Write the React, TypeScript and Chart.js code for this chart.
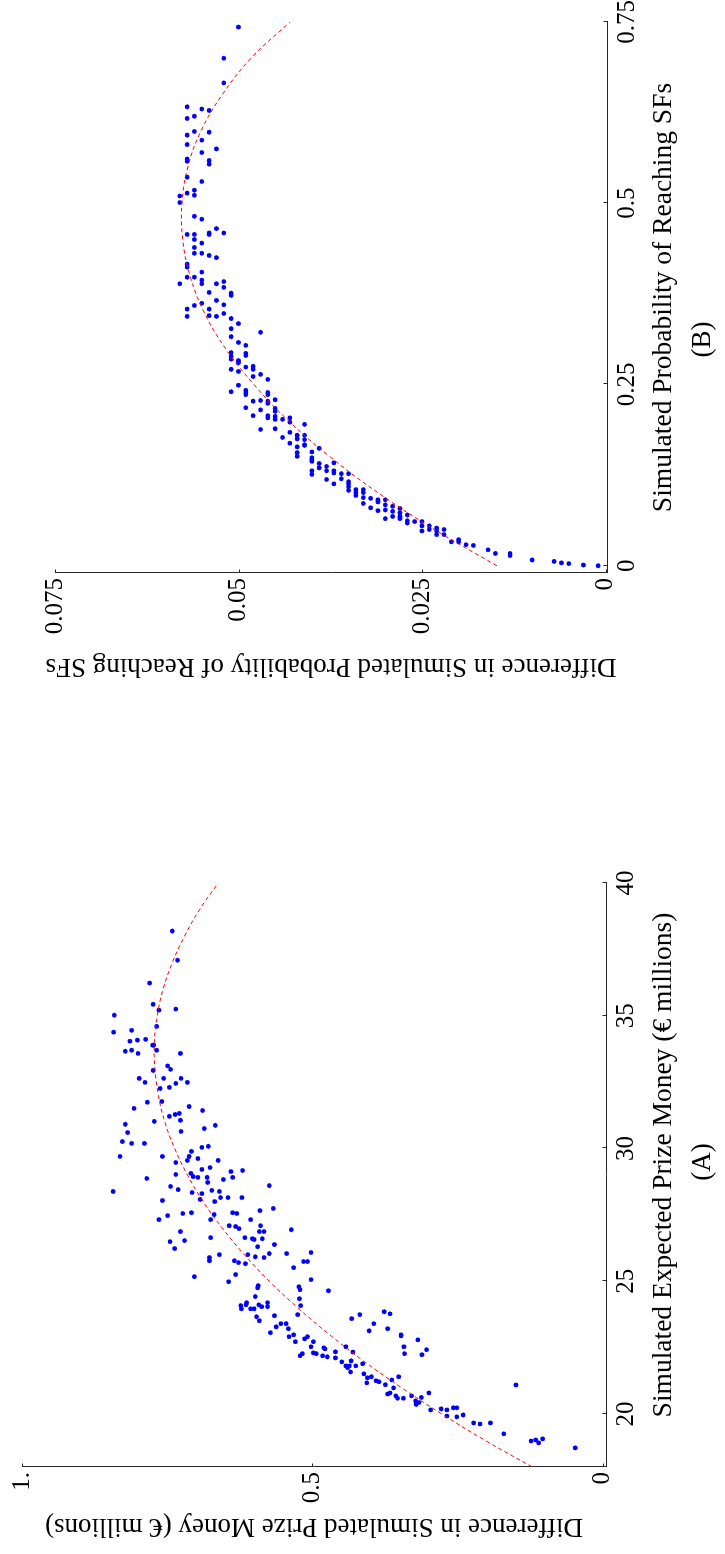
import React, { useEffect, useRef } from "react";
import { Chart, registerables } from "chart.js";

Chart.register(...registerables);

// ---------- Panel (A): Expected prize money ----------
const PRIZE_POINTS: number[][] = [
  [38.19,0.741],[37.09,0.732],[36.23,0.780],[35.43,0.774],[35.25,0.735],[35.21,0.764],[34.60,0.768],[34.45,0.811],
  [34.04,0.814],[34.08,0.801],[34.11,0.787],[33.89,0.775],[33.89,0.773],[33.66,0.822],[33.70,0.811],[33.58,0.800],
  [33.70,0.768],[33.58,0.727],[33.11,0.749],[32.98,0.744],[32.94,0.774],[32.64,0.798],[32.49,0.788],[32.64,0.756],
  [32.64,0.726],[32.45,0.735],[32.49,0.715],[32.26,0.762],[32.30,0.746],[31.77,0.759],[31.74,0.784],[31.51,0.807],
  [31.58,0.712],[31.43,0.689],[31.21,0.746],[31.28,0.736],[31.32,0.729],[31.06,0.727],[31.02,0.772],[30.91,0.822],
  [30.60,0.818],[30.75,0.686],[30.87,0.667],[30.64,0.726],[30.26,0.827],[30.19,0.811],[30.19,0.789],[30.04,0.690],
  [30.08,0.679],[29.89,0.708],[29.70,0.831],[29.70,0.758],[29.70,0.712],[29.55,0.715],[29.62,0.697],[29.55,0.662],
  [29.47,0.735],[29.21,0.690],[29.28,0.676],[29.13,0.640],[29.17,0.620],[29.06,0.709],[29.02,0.735],[28.94,0.705],
  [28.91,0.697],[28.91,0.681],[28.91,0.637],[28.87,0.785],[28.83,0.653],[35.02,0.841],[34.38,0.842],[28.38,0.843],
  [28.72,0.680],[28.57,0.744],[28.45,0.731],[28.60,0.574],[28.34,0.707],[28.30,0.690],[28.42,0.673],[28.38,0.660],
  [28.15,0.645],[28.15,0.658],[28.15,0.621],[28.08,0.693],[28.00,0.668],[28.04,0.758],[27.74,0.567],[27.47,0.749],
  [27.55,0.723],[27.58,0.708],[27.51,0.669],[27.58,0.637],[27.55,0.630],[27.66,0.590],[27.32,0.764],[27.32,0.675],
  [27.32,0.606],[27.09,0.643],[27.06,0.632],[26.98,0.626],[27.09,0.589],[26.87,0.727],[26.87,0.591],[26.87,0.583],
  [26.94,0.536],[26.49,0.745],[26.53,0.720],[26.64,0.675],[26.64,0.616],[26.60,0.603],[26.57,0.600],[26.60,0.586],
  [26.30,0.594],[26.38,0.565],[26.23,0.737],[25.89,0.677],[25.77,0.677],[26.00,0.660],[26.00,0.611],[25.77,0.634],
  [25.70,0.627],[25.66,0.615],[25.92,0.598],[25.89,0.583],[26.04,0.574],[26.04,0.544],[26.08,0.502],[25.74,0.515],
  [25.74,0.508],[25.51,0.532],[25.17,0.703],[25.25,0.632],[24.98,0.644],[25.06,0.502],[24.75,0.594],[24.83,0.593],
  [24.79,0.523],[24.68,0.521],[24.64,0.472],[24.42,0.598],[24.34,0.522],[24.08,0.623],[24.19,0.613],[23.96,0.622],
  [24.11,0.614],[23.96,0.606],[23.96,0.600],[24.11,0.592],[24.04,0.587],[24.19,0.577],[24.04,0.577],[24.08,0.520],
  [23.70,0.565],[23.74,0.525],[23.66,0.596],[23.51,0.591],[23.28,0.562],[23.40,0.554],[23.40,0.545],[23.21,0.541],
  [23.06,0.572],[22.91,0.540],[22.98,0.532],[22.72,0.529],[22.83,0.513],[22.91,0.508],[22.19,0.521],[22.27,0.517],
  [22.72,0.498],[22.53,0.502],[22.30,0.498],[22.27,0.493],[22.49,0.480],[22.45,0.478],[22.19,0.482],[22.15,0.474],
  [22.34,0.460],[22.11,0.460],[22.53,0.442],[23.59,0.432],[23.74,0.418],[22.33,0.430],[21.96,0.449],[21.81,0.442],
  [21.74,0.439],[21.81,0.436],[21.58,0.434],[22.00,0.433],[21.81,0.425],[21.89,0.413],[23.13,0.402],[23.40,0.394],
  [23.85,0.376],[23.77,0.366],[23.21,0.370],[22.98,0.347],[22.94,0.347],[22.53,0.342],[22.27,0.341],[22.79,0.318],
  [22.42,0.303],[22.23,0.311],[21.51,0.411],[21.36,0.405],[21.17,0.406],[21.40,0.398],[21.25,0.390],[21.21,0.385],
  [21.10,0.374],[21.28,0.363],[21.40,0.351],[20.98,0.360],[20.75,0.370],[20.79,0.366],[20.68,0.356],[20.59,0.353],
  [20.59,0.343],[20.68,0.329],[20.49,0.322],[20.36,0.321],[20.43,0.316],[20.62,0.312],[20.79,0.299],[20.15,0.296],
  [20.19,0.278],[20.15,0.268],[19.92,0.268],[20.23,0.257],[20.23,0.251],[19.89,0.251],[19.96,0.240],[19.66,0.222],
  [19.62,0.211],[19.66,0.193],[19.25,0.170],[21.09,0.149],[18.98,0.123],[19.02,0.115],[18.91,0.110],[19.06,0.103],
  [18.72,0.047],
];
const PRIZE_FIT_X = [18, 19, 20, 21, 22, 23, 24, 25, 26, 27, 28, 29, 30, 31, 32, 33, 34, 35, 36, 37, 38, 39, 40];
const PRIZE_FIT_Y = [0.121, 0.202, 0.277, 0.347, 0.412, 0.471, 0.525, 0.574, 0.617, 0.655, 0.688, 0.715, 0.737,
  0.754, 0.765, 0.771, 0.772, 0.767, 0.757, 0.741, 0.720, 0.694, 0.662];
const PRIZE_X_TICKS = [20, 25, 30, 35, 40];
const PRIZE_X_LABELS = ["20", "25", "30", "35", "40"];
const PRIZE_Y_TICKS = [0, 0.5, 1];
const PRIZE_Y_LABELS = ["0", "0.5", "1."];

// ---------- Panel (B): Probability of reaching SFs ----------
const PROB_POINTS: number[][] = [
  [0.743,0.050],[0.700,0.052],[0.666,0.052],[0.633,0.057],[0.630,0.055],[0.628,0.054],[0.617,0.057],[0.620,0.056],
  [0.599,0.056],[0.598,0.054],[0.594,0.057],[0.587,0.055],[0.581,0.057],[0.575,0.053],[0.570,0.055],[0.561,0.057],
  [0.558,0.057],[0.559,0.054],[0.554,0.054],[0.536,0.057],[0.530,0.055],[0.518,0.056],[0.514,0.057],[0.511,0.056],
  [0.510,0.058],[0.501,0.058],[0.482,0.056],[0.478,0.055],[0.465,0.053],[0.459,0.054],[0.457,0.054],[0.459,0.052],
  [0.457,0.057],[0.457,0.056],[0.450,0.056],[0.445,0.055],[0.439,0.056],[0.431,0.056],[0.431,0.055],[0.428,0.054],
  [0.425,0.053],[0.416,0.057],[0.412,0.057],[0.405,0.055],[0.398,0.057],[0.398,0.056],[0.394,0.055],[0.389,0.055],
  [0.392,0.052],[0.389,0.058],[0.389,0.053],[0.384,0.052],[0.377,0.054],[0.376,0.051],[0.373,0.051],[0.366,0.053],
  [0.362,0.055],[0.359,0.056],[0.360,0.052],[0.354,0.057],[0.354,0.054],[0.345,0.054],[0.344,0.053],[0.348,0.052],
  [0.344,0.057],[0.341,0.051],
  [0.334,0.050],[0.327,0.051],[0.316,0.051],[0.322,0.047],[0.308,0.050],[0.304,0.049],[0.294,0.051],[0.289,0.051],
  [0.285,0.051],[0.283,0.050],[0.280,0.050],[0.293,0.049],[0.290,0.049],[0.275,0.048],[0.271,0.048],[0.271,0.051],
  [0.268,0.050],[0.274,0.049],[0.261,0.048],[0.264,0.047],[0.257,0.046],[0.249,0.050],[0.240,0.051],[0.242,0.049],
  [0.239,0.049],[0.236,0.049],[0.227,0.048],[0.228,0.047],[0.239,0.046],[0.236,0.046],[0.227,0.046],[0.224,0.046],
  [0.229,0.045],[0.218,0.049],[0.215,0.047],[0.217,0.045],[0.213,0.045],[0.207,0.048],[0.207,0.046],[0.204,0.046],
  [0.206,0.045],[0.202,0.045],[0.202,0.044],[0.204,0.043],[0.198,0.043],[0.188,0.047],[0.189,0.045],[0.177,0.044],
  [0.184,0.043],[0.169,0.043],[0.180,0.042],[0.175,0.042],[0.195,0.041],[0.180,0.041],[0.174,0.041],[0.164,0.042],
  [0.167,0.041],[0.166,0.041],[0.156,0.042],[0.151,0.042],[0.157,0.040],[0.149,0.040],[0.146,0.040],[0.144,0.040],
  [0.162,0.039],[0.141,0.039],[0.135,0.039],[0.137,0.038],[0.131,0.038],[0.142,0.037],[0.131,0.037],[0.128,0.037],
  [0.131,0.040],[0.126,0.040],[0.119,0.038],[0.113,0.037],[0.127,0.036],[0.120,0.036],[0.127,0.035],[0.116,0.035],
  [0.113,0.035],[0.109,0.035],[0.104,0.035],[0.105,0.034],[0.101,0.034],[0.097,0.034],[0.105,0.033],[0.101,0.033],
  [0.094,0.033],[0.086,0.033],[0.093,0.032],[0.080,0.032],[0.091,0.031],[0.088,0.031],[0.076,0.031],[0.091,0.030],
  [0.084,0.030],[0.077,0.030],[0.065,0.030],[0.082,0.029],[0.075,0.029],[0.068,0.029],[0.079,0.028],[0.073,0.028],
  [0.068,0.028],[0.065,0.028],[0.070,0.027],[0.062,0.027],[0.059,0.027],[0.061,0.026],[0.061,0.025],[0.055,0.025],
  [0.048,0.025],[0.055,0.024],[0.050,0.024],[0.052,0.023],[0.048,0.023],[0.043,0.023],[0.050,0.022],[0.043,0.022],
  [0.033,0.021],[0.036,0.020],[0.033,0.020],[0.029,0.019],[0.028,0.018],[0.022,0.016],[0.017,0.015],[0.017,0.013],
  [0.014,0.013],[0.008,0.010],[0.006,0.007],[0.004,0.006],[0.003,0.005],[0.001,0.003],[0.000,0.001],
];
const PROB_FIT_X = [0, 0.05, 0.1, 0.15, 0.2, 0.25, 0.3, 0.35, 0.4, 0.45, 0.5, 0.55, 0.6, 0.65, 0.7, 0.75];
const PROB_FIT_Y = [0.0148, 0.0233, 0.0309, 0.0375, 0.0432, 0.0479, 0.0518, 0.0547, 0.0566, 0.0576, 0.0577,
  0.0569, 0.0551, 0.0522, 0.0483, 0.0430];
const PROB_X_TICKS = [0, 0.25, 0.5, 0.75];
const PROB_X_LABELS = ["0", "0.25", "0.5", "0.75"];
const PROB_Y_TICKS = [0, 0.025, 0.05, 0.075];
const PROB_Y_LABELS = ["0", "0.025", "0.05", "0.075"];

const FONT = "'Liberation Serif', 'Times New Roman', serif";
const AXIS_COLOR = "#262626";

// Inward tick marks, x-axis title and sub-caption
const panelDecor = {
  id: "panelDecor",
  afterDraw(chart: any, _args: any, opts: any) {
    const { ctx, chartArea, scales } = chart;
    ctx.save();
    ctx.strokeStyle = AXIS_COLOR;
    ctx.lineWidth = 1;
    const len = 3.5;
    scales.x.ticks.forEach((t: any) => {
      const p = Math.round(scales.x.getPixelForValue(t.value)) + 0.5;
      ctx.beginPath();
      ctx.moveTo(p, chartArea.bottom);
      ctx.lineTo(p, chartArea.bottom - len);
      ctx.stroke();
    });
    scales.y.ticks.forEach((t: any) => {
      const p = Math.round(scales.y.getPixelForValue(t.value)) + 0.5;
      ctx.beginPath();
      ctx.moveTo(chartArea.left, p);
      ctx.lineTo(chartArea.left + len, p);
      ctx.stroke();
    });
    const mid = (chartArea.left + chartArea.right) / 2;
    ctx.fillStyle = "#000";
    ctx.textAlign = "center";
    ctx.textBaseline = "middle";
    ctx.font = `${opts.titleSize}px ${FONT}`;
    ctx.fillText(opts.xTitle, mid + opts.titleShift, opts.titleY);
    ctx.font = `${opts.captionSize}px ${FONT}`;
    ctx.fillText(opts.caption, mid + opts.captionShift, opts.captionY);
    ctx.restore();
  },
};

interface PanelSpec {
  points: number[][];
  fitX: number[];
  fitY: number[];
  xMin: number; xMax: number; yMin: number; yMax: number;
  xTicks: number[]; xLabels: string[];
  yTicks: number[]; yLabels: string[];
  xTitle: string; yTitle: string; caption: string;
  width: number; height: number;
  padTop: number; padRight: number;
  yAxisWidth: number; xAxisHeight: number; yTitlePad: number;
  titleShift: number; captionShift: number;
}

function buildConfig(s: PanelSpec): any {
  return {
    type: "scatter",
    data: {
      datasets: [
        {
          type: "line",
          data: s.fitX.map((x, i) => ({ x, y: s.fitY[i] })),
          borderColor: "#ff0000",
          borderWidth: 1,
          borderDash: [4, 3],
          pointRadius: 0,
          fill: false,
          tension: 0.4,
        },
        {
          type: "scatter",
          data: s.points.map((p) => ({ x: p[0], y: p[1] })),
          backgroundColor: "#0000ff",
          borderWidth: 0,
          pointRadius: 2.4,
        },
      ],
    },
    options: {
      responsive: false,
      animation: false,
      devicePixelRatio: 1,
      events: [],
      layout: { padding: { top: s.padTop, right: s.padRight, left: 0, bottom: 0 } },
      plugins: {
        legend: { display: false },
        tooltip: { enabled: false },
        panelDecor: {
          xTitle: s.xTitle, titleSize: 27.5, titleY: 664, titleShift: s.titleShift,
          caption: s.caption, captionSize: 27, captionY: 703, captionShift: s.captionShift,
        },
      },
      scales: {
        x: {
          type: "linear",
          min: s.xMin,
          max: s.xMax,
          afterBuildTicks: (sc: any) => { sc.ticks = s.xTicks.map((v) => ({ value: v })); },
          afterFit: (sc: any) => { sc.height = s.xAxisHeight; sc.paddingLeft = 0; sc.paddingRight = 0; },
          grid: { display: true, drawOnChartArea: false, drawTicks: false },
          border: { display: true, color: AXIS_COLOR, width: 1 },
          ticks: {
            padding: 5, color: "#000", autoSkip: false, maxRotation: 0,
            font: { family: FONT, size: 25 },
            callback: (_v: any, i: number) => s.xLabels[i],
          },
          title: { display: false },
        },
        y: {
          type: "linear",
          min: s.yMin,
          max: s.yMax,
          afterBuildTicks: (sc: any) => { sc.ticks = s.yTicks.map((v) => ({ value: v })); },
          afterFit: (sc: any) => { sc.width = s.yAxisWidth; sc.paddingTop = 0; sc.paddingBottom = 0; },
          grid: { display: true, drawOnChartArea: false, drawTicks: false },
          border: { display: true, color: AXIS_COLOR, width: 1 },
          ticks: {
            padding: 5, color: "#000", autoSkip: false,
            font: { family: FONT, size: 25 },
            callback: (_v: any, i: number) => s.yLabels[i],
          },
          title: {
            display: true, text: s.yTitle, color: "#000",
            font: { family: FONT, size: 27 }, padding: { top: s.yTitlePad, bottom: 0 },
          },
        },
      },
    },
    plugins: [panelDecor],
  };
}

const PANEL_A: PanelSpec = {
  points: PRIZE_POINTS, fitX: PRIZE_FIT_X, fitY: PRIZE_FIT_Y,
  xMin: 18, xMax: 40, yMin: -0.006, yMax: 1,
  xTicks: PRIZE_X_TICKS, xLabels: PRIZE_X_LABELS, yTicks: PRIZE_Y_TICKS, yLabels: PRIZE_Y_LABELS,
  xTitle: "Simulated Expected Prize Money (€ millions)",
  yTitle: "Difference in Simulated Prize Money (€ millions)",
  caption: "(A)",
  width: 754, height: 725, padTop: 22, padRight: 83, yAxisWidth: 87, xAxisHeight: 119, yTitlePad: 12,
  titleShift: 10, captionShift: 13,
};

const PANEL_B: PanelSpec = {
  points: PROB_POINTS, fitX: PROB_FIT_X, fitY: PROB_FIT_Y,
  xMin: -0.01, xMax: 0.75, yMin: -0.0002, yMax: 0.075,
  xTicks: PROB_X_TICKS, xLabels: PROB_X_LABELS, yTicks: PROB_Y_TICKS, yLabels: PROB_Y_LABELS,
  xTitle: "Simulated Probability of Reaching SFs",
  yTitle: "Difference in Simulated Probability of Reaching SFs",
  caption: "(B)",
  width: 800, height: 725, padTop: 55, padRight: 45, yAxisWidth: 204, xAxisHeight: 118, yTitlePad: 95,
  titleShift: 0, captionShift: -42,
};

function RotatedPanel({ spec, bottomY }: { spec: PanelSpec; bottomY: number }) {
  const ref = useRef<HTMLCanvasElement | null>(null);
  useEffect(() => {
    if (!ref.current) return;
    const chart = new Chart(ref.current, buildConfig(spec));
    return () => chart.destroy();
  }, [spec]);
  return (
    <div
      style={{
        position: "absolute", left: 0, top: 0,
        width: spec.width, height: spec.height,
        transformOrigin: "0 0",
        transform: `translate(0px, ${bottomY}px) rotate(-90deg)`,
      }}
    >
      <canvas ref={ref} width={spec.width} height={spec.height}
        style={{ display: "block", width: spec.width, height: spec.height }} />
    </div>
  );
}

export default function App() {
  return (
    <div style={{ position: "absolute", left: 0, top: 0, width: 725, height: 1554, overflow: "hidden", background: "#fff" }}>
      <RotatedPanel spec={PANEL_B} bottomY={777} />
      <RotatedPanel spec={PANEL_A} bottomY={1554} />
    </div>
  );
}
